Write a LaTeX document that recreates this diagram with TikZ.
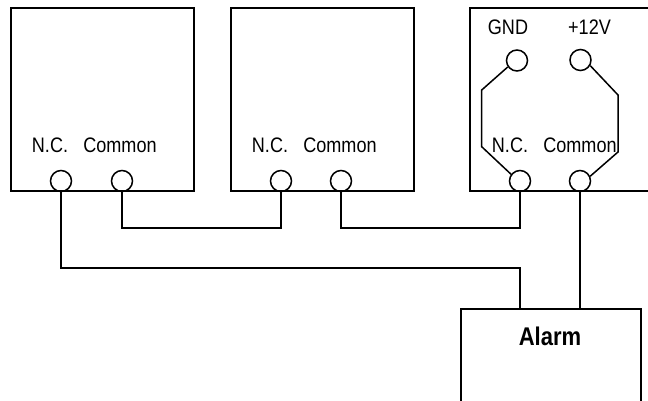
\documentclass[tikz,border=0pt]{standalone}
\usepackage{fontspec}
\setmainfont{Liberation Sans}[FakeStretch=0.86]
\begin{document}
\begin{tikzpicture}[x=1pt,y=1pt,
  box/.style={draw, line width=1.8pt, inner sep=0pt, anchor=south west},
  term/.style={circle, draw, line width=1.5pt, minimum size=21pt, inner sep=0pt},
  wire/.style={line width=1.5pt},
  lab/.style={anchor=base, inner sep=0pt, font=\fontsize{21}{21}\selectfont},
  alarmlab/.style={anchor=base, inner sep=0pt, font=\fontsize{25.6}{25.6}\selectfont\bfseries}]
\useasboundingbox (0,0) rectangle (648,400);
\clip (0,0) rectangle (648,400);
% relay boxes
\node[box, minimum width=183pt, minimum height=182.5pt] (b1) at (10,208.5) {};
\node[box, minimum width=183pt, minimum height=182.5pt] (b2) at (230,208.5) {};
\node[box, minimum width=200pt, minimum height=182.5pt] (b3) at (469,208.5) {};
% alarm box
\node[box, anchor=north west, minimum width=180pt, minimum height=120pt] (alarm) at (460,92) {};
\node[alarmlab] (alarmtxt) at (550,55) {Alarm};
% labels
\node[lab] (lnc1) at (50,248) {N.C.};
\node[lab] (lcom1) at (120,248) {Common};
\node[lab] (lnc2) at (270,248) {N.C.};
\node[lab] (lcom2) at (340,248) {Common};
\node[lab] (lnc3) at (510,248) {N.C.};
\node[lab] (lcom3) at (580,248) {Common};
\node[lab] (lgnd) at (508,365) {GND};
\node[lab] (lv12) at (589.5,365) {+12V};
% terminals
\node[term] (nc1) at (61,219) {};
\node[term] (com1) at (122,219) {};
\node[term] (nc2) at (281,219) {};
\node[term] (com2) at (341,219) {};
\node[term] (nc3) at (520,219) {};
\node[term] (com3) at (580,219) {};
\node[term] (gnd) at (517,339.5) {};
\node[term] (v12) at (580.5,340) {};
% rows
\coordinate (lowrow) at (0,132);
\coordinate (midrow) at (0,172);
% wiring
\draw[wire] (nc1.south) -- (nc1 |- lowrow) -| (alarm.north -| nc3);
\draw[wire] (com1.south) -- (com1 |- midrow) -| (nc2.south);
\draw[wire] (com2.south) -- (com2 |- midrow) -| (nc3.south);
\draw[wire] (com3.south) -- (alarm.north -| com3);
% internal switch lines
\coordinate (sl1) at (481.7,310);
\coordinate (sl2) at (481.7,253.3);
\coordinate (sr1) at (618,305);
\coordinate (sr2) at (618,248);
\draw[wire] (gnd.215) -- (sl1) -- (sl2) -- (nc3.143);
\draw[wire] (v12.-30) -- (sr1) -- (sr2) -- (com3.25);
\end{tikzpicture}
\end{document}
